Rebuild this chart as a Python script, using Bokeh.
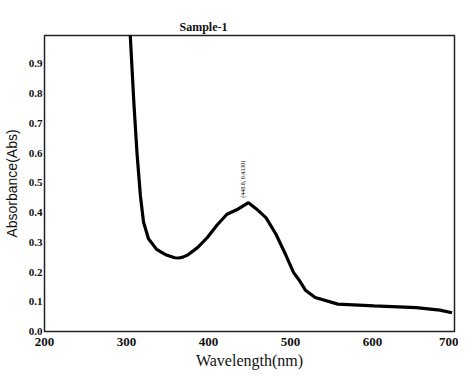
from bokeh.plotting import figure
from bokeh.models import FixedTicker, Range1d
from bokeh.core.properties import value
from bokeh.embed import file_html
from bokeh.resources import INLINE

title_text = "Sample-1"
x_label = "Wavelength(nm)"
y_label = "Absorbance(Abs)"
x_ticks = [200, 300, 400, 500, 600, 700]
y_ticks = [0.0, 0.1, 0.2, 0.3, 0.4, 0.5, 0.6, 0.7, 0.8, 0.9]

wavelength = [304.5, 308.9, 312.8, 316.9, 320.8, 326.8, 336.7, 348.7, 358.7, 364.0,
              368.7, 374.6, 386.6, 398.6, 410.5, 422.5, 434.4, 448.8, 458.4, 470.3,
              482.3, 494.3, 503.8, 510.0, 518.2, 530.1, 557.7, 601.9, 653.3, 682.1, 697.0]
absorbance = [1.0, 0.773, 0.60, 0.458, 0.367, 0.312, 0.276, 0.257, 0.248, 0.247,
              0.250, 0.257, 0.282, 0.316, 0.358, 0.394, 0.409, 0.433, 0.412, 0.382,
              0.327, 0.257, 0.198, 0.175, 0.139, 0.114, 0.092, 0.086, 0.080, 0.072, 0.063]
peak_wl = [448.8]
peak_abs = [0.433]
peak_text = ["(448.8, 0.4330)"]

p = figure(width=458, height=371, output_backend="svg", toolbar_location=None,
           x_range=Range1d(200, 700), y_range=Range1d(0, 0.995),
           min_border_left=4, min_border_right=4, min_border_top=35, min_border_bottom=2)

p.title.text = title_text
p.title.align = "left"
p.title.offset = 135
p.title.text_font = "Liberation Serif"
p.title.text_font_style = "bold"
p.title.text_font_size = "12px"
p.title.text_color = "#111111"
p.title.standoff = 4

p.line(wavelength, absorbance, line_color="black", line_width=3.2)
p.text(peak_wl, peak_abs, text=peak_text, angle=1.5708, x_offset=-3, y_offset=-5,
       text_font=value("Liberation Serif"), text_font_size="6px",
       text_align="left", text_baseline="bottom", text_color="black")

p.xgrid.visible = False
p.ygrid.visible = False
p.outline_line_color = "#222222"
p.outline_line_width = 1.5
p.background_fill_color = "white"
p.border_fill_color = "white"

p.xaxis.ticker = FixedTicker(ticks=x_ticks)
p.yaxis.ticker = FixedTicker(ticks=y_ticks)
p.yaxis.major_label_overrides = {0.0: "0.0"}
for ax in (p.xaxis[0], p.yaxis[0]):
    ax.axis_line_color = None
    ax.major_tick_line_color = None
    ax.minor_tick_line_color = None
    ax.major_tick_out = 0
    ax.major_tick_in = 0
    ax.minor_tick_out = 0
    ax.minor_tick_in = 0
    ax.major_label_text_font = "Liberation Serif"
    ax.major_label_text_font_style = "bold"
    ax.major_label_text_color = "#111111"
p.xaxis.major_label_text_font_size = "13px"
p.yaxis.major_label_text_font_size = "11px"
p.xaxis.major_label_standoff = 6
p.yaxis.major_label_standoff = 2

p.xaxis.axis_label = x_label
p.xaxis.axis_label_text_font = "Liberation Serif"
p.xaxis.axis_label_text_font_style = "normal"
p.xaxis.axis_label_text_font_size = "16px"
p.xaxis.axis_label_standoff = 3
p.xaxis.axis_label_text_color = "#111111"

p.yaxis.axis_label = y_label
p.yaxis.axis_label_text_font = "Liberation Sans"
p.yaxis.axis_label_text_font_style = "normal"
p.yaxis.axis_label_text_font_size = "14px"
p.yaxis.axis_label_standoff = 6
p.yaxis.axis_label_text_color = "#111111"

open("out.html", "w").write(file_html(p, INLINE))
